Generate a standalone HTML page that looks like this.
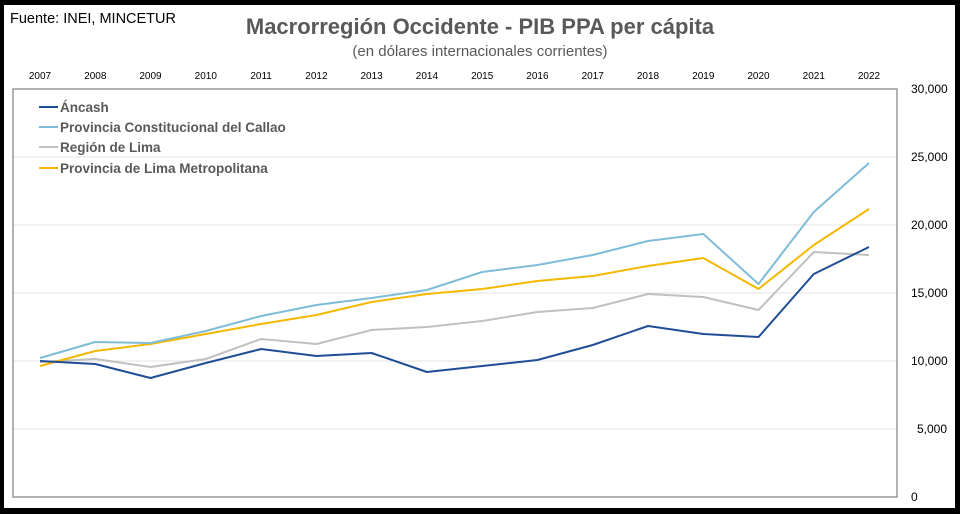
<!DOCTYPE html>
<html><head><meta charset="utf-8"><style>
body{margin:0;background:#fff}
svg{display:block}
text{font-family:"Liberation Sans","DejaVu Sans",sans-serif}
</style></head><body>
<svg width="960" height="514" viewBox="0 0 960 514" xmlns="http://www.w3.org/2000/svg">
<rect x="0" y="0" width="960" height="514" fill="#000"/>
<rect x="4" y="5" width="951" height="503" fill="#fff"/>
<text x="10" y="23" font-size="14.5" fill="#000">Fuente: INEI, MINCETUR</text>
<text x="480" y="34" font-size="22" font-weight="bold" fill="#595959" text-anchor="middle">Macrorregión Occidente - PIB PPA per cápita</text>
<text x="480" y="56" font-size="15" fill="#595959" text-anchor="middle">(en dólares internacionales corrientes)</text>
<g font-size="10" fill="#000" text-anchor="middle">
<text x="40" y="79">2007</text><text x="95.3" y="79">2008</text><text x="150.5" y="79">2009</text><text x="205.8" y="79">2010</text><text x="261.1" y="79">2011</text><text x="316.4" y="79">2012</text><text x="371.6" y="79">2013</text><text x="426.9" y="79">2014</text><text x="482.2" y="79">2015</text><text x="537.4" y="79">2016</text><text x="592.7" y="79">2017</text><text x="648" y="79">2018</text><text x="703.3" y="79">2019</text><text x="758.5" y="79">2020</text><text x="813.8" y="79">2021</text><text x="869" y="79">2022</text>
</g>
<g stroke="#e3e3e3" stroke-width="1">
<line x1="13" y1="157" x2="897" y2="157"/><line x1="13" y1="225" x2="897" y2="225"/><line x1="13" y1="293" x2="897" y2="293"/><line x1="13" y1="361" x2="897" y2="361"/><line x1="13" y1="429" x2="897" y2="429"/>
</g>
<rect x="13" y="89" width="884" height="408" fill="none" stroke="#808080" stroke-width="1.2"/>
<g font-size="12" fill="#000">
<text x="911" y="93">30,000</text><text x="911" y="161">25,000</text><text x="911" y="229">20,000</text><text x="911" y="297">15,000</text><text x="911" y="365">10,000</text><text x="917" y="433">5,000</text><text x="911" y="501">0</text>
</g>
<g fill="none" stroke-width="2" stroke-linejoin="round">
<polyline stroke="#c0c0c0" points="40,362 95.3,359 150.5,367 205.8,359 261.1,339 316.4,344 371.6,330 426.9,327 482.2,321 537.4,312 592.7,308 648,294 703.3,297 758.5,310 813.8,252 869,255"/>
<polyline stroke="#f5b800" points="40,366 95.3,351 150.5,344 205.8,334 261.1,324 316.4,315 371.6,302 426.9,294 482.2,289 537.4,281 592.7,276 648,266 703.3,258 758.5,289 813.8,245 869,209"/>
<polyline stroke="#7fbcd8" points="40,358 95.3,342 150.5,343 205.8,331 261.1,316 316.4,305 371.6,298 426.9,290 482.2,272 537.4,265 592.7,255 648,241 703.3,234 758.5,284 813.8,212 869,163"/>
<polyline stroke="#1f4e96" points="40,361 95.3,364 150.5,378 205.8,363 261.1,349 316.4,356 371.6,353 426.9,372 482.2,366 537.4,360 592.7,345 648,326 703.3,334 758.5,337 813.8,274 869,247"/>
</g>
<g stroke-width="2">
<line x1="39" y1="107" x2="58" y2="107" stroke="#1f4e96"/>
<line x1="39" y1="127" x2="58" y2="127" stroke="#7fbcd8"/>
<line x1="39" y1="147" x2="58" y2="147" stroke="#c0c0c0"/>
<line x1="39" y1="168" x2="58" y2="168" stroke="#f5b800"/>
</g>
<g font-size="13.5" font-weight="bold" fill="#595959">
<text x="60" y="112">Áncash</text>
<text x="60" y="132">Provincia Constitucional del Callao</text>
<text x="60" y="152">Región de Lima</text>
<text x="60" y="173">Provincia de Lima Metropolitana</text>
</g>
</svg>
</body></html>
